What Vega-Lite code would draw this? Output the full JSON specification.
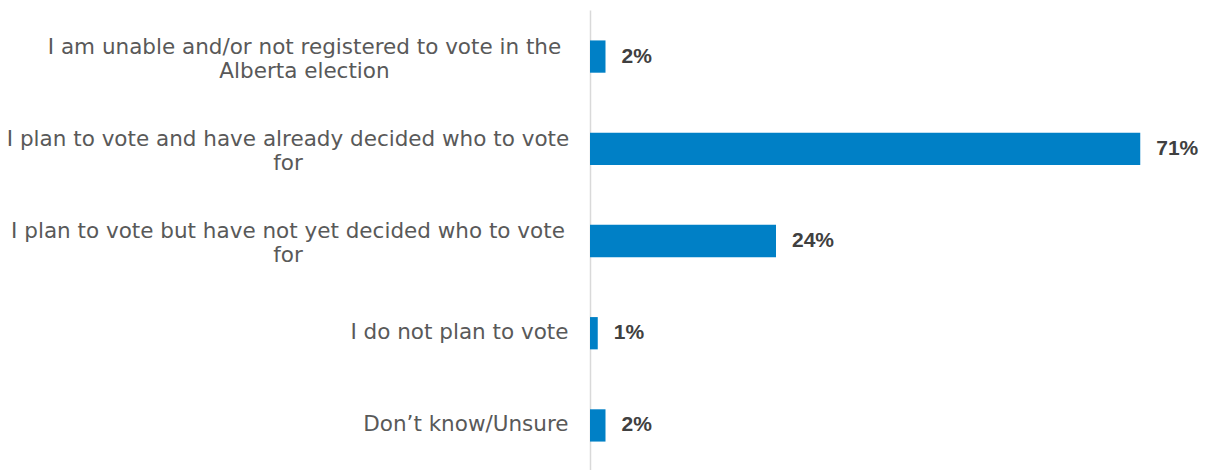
{
  "$schema": "https://vega.github.io/schema/vega-lite/v6.json",
  "autosize": {"type": "none"},
  "padding": {"left": 590, "top": 10, "right": 0, "bottom": 0},
  "width": 620,
  "height": 462,
  "background": "white",
  "data": {
    "values": [
      {"answer": "I am unable and/or not registered to vote in the\nAlberta election", "share": 0.02},
      {"answer": "I plan to vote and have already decided who to vote\nfor", "share": 0.71},
      {"answer": "I plan to vote but have not yet decided who to vote\nfor", "share": 0.24},
      {"answer": "I do not plan to vote", "share": 0.01},
      {"answer": "Don’t know/Unsure", "share": 0.02}
    ]
  },
  "encoding": {
    "y": {
      "field": "answer",
      "type": "nominal",
      "sort": null,
      "scale": {"paddingInner": 0.65, "paddingOuter": 0.33},
      "axis": {
        "title": null,
        "ticks": false,
        "domainColor": "#d9d9d9",
        "domainWidth": 1.5,
        "labelExpr": "split(datum.value, '\\n')",
        "labelAlign": {"expr": "indexof(datum.value, '\\n') > 0 ? 'center' : 'right'"},
        "labelPadding": {"expr": "indexof(datum.value, '\\n') > 0 ? 22 + 5.5 * indexof(datum.value, '\\n') : 22"},
        "labelOffset": {"expr": "indexof(datum.value, '\\n') > 0 ? -9 : 0"},
        "labelFont": "DejaVu Sans",
        "labelFontSize": 21.5,
        "labelColor": "#595959",
        "labelLimit": 600,
        "labelLineHeight": 24
      }
    },
    "x": {
      "field": "share",
      "type": "quantitative",
      "scale": {"domain": [0, 0.8], "nice": false},
      "axis": null
    }
  },
  "layer": [
    {"mark": {"type": "bar", "color": "#0080c6"}},
    {
      "mark": {
        "type": "text",
        "align": "left",
        "baseline": "middle",
        "dx": 16,
        "font": "Liberation Sans",
        "fontSize": 21,
        "fontWeight": "bold",
        "color": "#404040"
      },
      "encoding": {"text": {"field": "share", "type": "quantitative", "format": ".0%"}}
    }
  ],
  "config": {"view": {"stroke": null}}
}
